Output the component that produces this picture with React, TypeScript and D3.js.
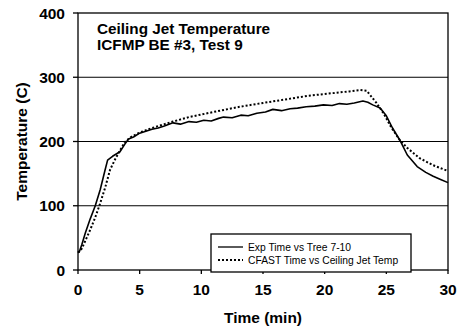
import React from 'react';
import * as d3 from 'd3';

const expTime = [0, 0.1, 0.3, 0.6, 1.0, 1.4, 1.8, 2.2, 2.4, 2.8, 3.4, 3.8, 4.1, 4.5, 5.0, 5.5, 6.0, 6.5, 7.0, 7.7, 8.3, 9.0, 9.6, 10.2, 10.8, 11.4, 11.8, 12.5, 13.2, 13.8, 14.5, 15.2, 15.8, 16.5, 17.2, 17.8, 18.5, 19.2, 19.9, 20.6, 21.2, 21.8, 22.4, 23.1, 23.5, 23.9, 24.5, 25.0, 25.5, 26.1, 26.7, 27.5, 28.2, 28.8, 29.4, 30];
const expTemp = [27, 28, 39, 58, 80, 100, 125, 156, 171, 177, 184, 196, 204, 207, 213, 216, 219, 221, 224, 229, 227, 231, 230, 233, 232, 236, 238, 237, 241, 240, 244, 246, 250, 248, 251, 252, 254, 255, 257, 256, 259, 258, 260, 263, 261, 257, 252, 240, 221, 202, 179, 161, 152, 146, 141, 136];

const cfastTime = [0, 0.3, 0.7, 1.0, 1.4, 1.73, 2.2, 2.6, 3.0, 3.4, 3.8, 4.3, 5.0, 6.0, 7.7, 9.0, 11.0, 13.1, 15.0, 17.0, 18.6, 20.5, 22.0, 22.9, 23.4, 23.7, 24.2, 24.8, 25.4, 26.1, 26.7, 27.7, 28.8, 30];
const cfastTemp = [27, 33, 50, 63, 82, 100, 128, 156, 172, 186, 199, 207, 214, 221, 231, 238, 246, 254, 260, 266, 271, 275, 278, 280, 279, 272, 260, 243, 222, 202, 190, 174, 163, 154];

const xTicks = [0, 5, 10, 15, 20, 25, 30];
const yTicks = [0, 100, 200, 300, 400];
const titleLines = ['Ceiling Jet Temperature', 'ICFMP BE #3, Test 9'];
const legendLabels = ['Exp Time vs Tree 7-10', 'CFAST Time vs Ceiling Jet Temp'];

const W = 463;
const H = 332;
const m = { left: 78, right: 15, top: 13, bottom: 62 };
const font = '"Liberation Sans", Arial, sans-serif';

export default function App() {
  const x = d3.scaleLinear().domain([0, 30]).range([m.left, W - m.right]);
  const y = d3.scaleLinear().domain([0, 400]).range([H - m.bottom, m.top]);

  const line = d3.line<[number, number]>()
    .x(d => x(d[0]))
    .y(d => y(d[1]));

  const expPath = line(expTime.map((t, i) => [t, expTemp[i]] as [number, number])) || '';
  const cfastPath = line(cfastTime.map((t, i) => [t, cfastTemp[i]] as [number, number])) || '';

  const x0 = x(0), x1 = x(30), y0 = y(0), y1 = y(400);

  // legend box
  const lg = { x: 211, y: 234, w: 200, h: 38 };

  return (
    <svg width={W} height={H} style={{ position: 'absolute', left: 0, top: 0, background: '#fff' }}>
      {/* grid */}
      {yTicks.filter(v => v > 0 && v < 400).map(v => (
        <line key={v} x1={x0} x2={x1} y1={y(v)} y2={y(v)} stroke="#000" strokeWidth={1} />
      ))}
      {/* frame */}
      <rect x={x0} y={y1} width={x1 - x0} height={y0 - y1} fill="none" stroke="#000" strokeWidth={1.3} />

      {/* y axis ticks */}
      {yTicks.map(v => (
        <g key={v}>
          <line x1={x0 - 5} x2={x0} y1={y(v)} y2={y(v)} stroke="#000" strokeWidth={1.3} />
          <text x={65} y={y(v) + 5.5} textAnchor="end" fontFamily={font} fontSize={15.5} fontWeight="bold" fill="#000">{v}</text>
        </g>
      ))}
      {/* x axis ticks */}
      {xTicks.map(v => (
        <g key={v}>
          <line x1={x(v)} x2={x(v)} y1={y0} y2={y0 + 4} stroke="#000" strokeWidth={1.3} />
          <text x={x(v)} y={295} textAnchor="middle" fontFamily={font} fontSize={15.5} fontWeight="bold" fill="#000">{v}</text>
        </g>
      ))}

      {/* axis titles */}
      <text x={263} y={323} textAnchor="middle" fontFamily={font} fontSize={15.5} fontWeight="bold" fill="#000">Time (min)</text>
      <text transform={`translate(27,${(y0 + y1) / 2}) rotate(-90)`} textAnchor="middle" fontFamily={font} fontSize={15.5} fontWeight="bold" fill="#000">Temperature (C)</text>

      {/* chart title */}
      {titleLines.map((t, i) => (
        <text key={t} x={97} y={33.5 + i * 16} fontFamily={font} fontSize={15.3} fontWeight="bold" fill="#000">{t}</text>
      ))}

      {/* series */}
      <path d={cfastPath} fill="none" stroke="#000" strokeWidth={2} strokeDasharray="2,2" />
      <path d={expPath} fill="none" stroke="#000" strokeWidth={1.6} strokeLinejoin="round" />

      {/* legend */}
      <rect x={lg.x} y={lg.y} width={lg.w} height={lg.h} fill="#fff" stroke="#000" strokeWidth={1.3} />
      <line x1={218} x2={243} y1={247} y2={247} stroke="#000" strokeWidth={1.3} />
      <line x1={218} x2={243} y1={260} y2={260} stroke="#000" strokeWidth={2} strokeDasharray="2,2" />
      {legendLabels.map((t, i) => (
        <text key={t} x={248} y={250.5 + i * 13} fontFamily={font} fontSize={10.3} fill="#000">{t}</text>
      ))}
    </svg>
  );
}
